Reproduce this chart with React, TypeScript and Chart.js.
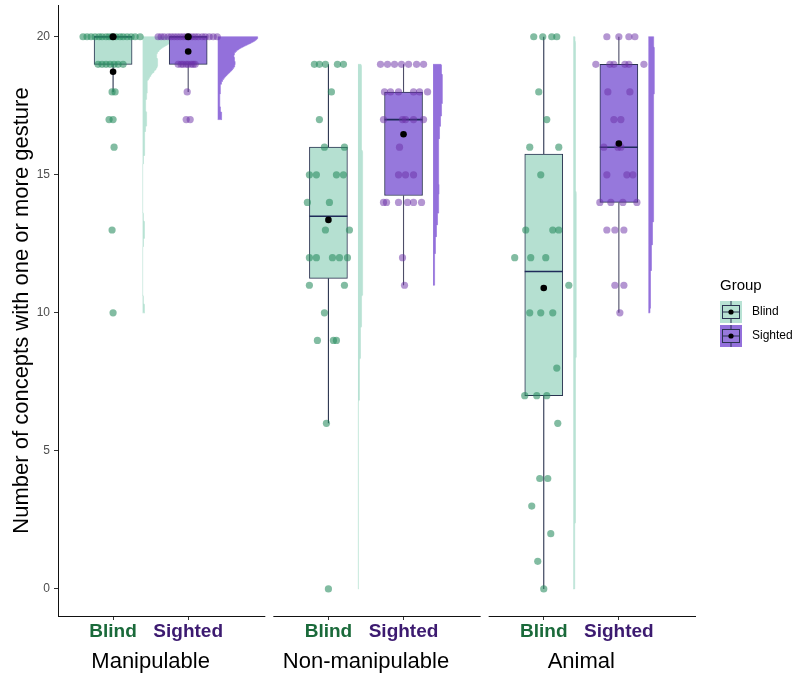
import React, { useEffect, useRef } from 'react';
import { Chart, registerables } from 'chart.js';

Chart.register(...registerables);

// ---------------- data ----------------
const categories = ['Manipulable', 'Non-manipulable', 'Animal'];
const groups = ['Blind', 'Sighted'];
const yTickValues = [0, 5, 10, 15, 20];

// values (concept counts) per participant, and horizontal jitter
const manipulableBlind = [20, 20, 20, 20, 20, 20, 20, 20, 20, 20, 20, 20, 20, 20, 20, 20, 19, 19, 19, 19, 19, 19, 19, 18, 18, 17, 17, 16, 13, 10];
const manipulableBlindJitter = [-30, -26, -22, -18, -14, -11, -7, -4, -1, 3, 7, 10, 14, 18, 22, 27, -15, -11, -7, -3, 1, 5, 10, -1, 2, -4, 0, 1, -1, 0];

const manipulableSighted = [20, 20, 20, 20, 20, 20, 20, 20, 20, 20, 20, 20, 20, 20, 20, 20, 20, 20, 20, 19, 19, 19, 19, 19, 19, 19, 19, 18, 17, 17];
const manipulableSightedJitter = [-30, -27, -24, -20, -17, -14, -11, -8, -5, -2, 1, 4, 7, 10, 14, 17, 21, 25, 29, -10, -7, -5, -2, 0, 3, 5, 7, -1, -2, 2];

const nonManipulableBlind = [19, 19, 19, 19, 19, 18, 17, 16, 16, 15, 15, 15, 15, 14, 14, 13, 13, 12, 12, 12, 12, 12, 11, 11, 10, 9, 9, 9, 6, 0];
const nonManipulableBlindJitter = [-14, -9, -3, 9, 15, 3, -9, -4, 16, -19, -12, 8, 15, -21, 1, -3, 21, -19, -12, 4, 11, 19, -19, 16, -4, -11, 5, 8, -2, 0];

const nonManipulableSighted = [19, 19, 19, 19, 19, 19, 19, 18, 18, 18, 18, 18, 18, 17, 17, 17, 17, 17, 16, 15, 15, 15, 14, 14, 14, 14, 14, 14, 12, 11];
const nonManipulableSightedJitter = [-23, -16, -9, -2, 5, 13, 20, -19, -13, -5, 10, 16, 24, -20, -1, 2, 10, 20, -4, -5, 2, 10, -20, -17, -5, 4, 10, 18, -1, 1];

const animalBlind = [20, 20, 20, 20, 18, 17, 16, 16, 15, 13, 13, 13, 12, 12, 12, 11, 10, 10, 10, 8, 7, 7, 7, 6, 4, 4, 3, 2, 1, 0];
const animalBlindJitter = [-10, -1, 8, 13, -5, 3, -14, 15, -3, -18, 9, 15, -29, -13, 2, 25, -14, -3, 9, 13, -19, -7, 3, 14, -4, 4, -12, 7, -6, 0];

const animalSighted = [20, 20, 20, 20, 19, 19, 19, 19, 19, 19, 18, 18, 17, 17, 16, 16, 16, 15, 15, 15, 14, 14, 14, 14, 13, 13, 13, 11, 11, 10];
const animalSightedJitter = [-12, 0, 10, 16, -23, -9, -5, 6, 10, 25, -11, 11, -5, 2, -15, -1, 2, -12, 8, 14, -19, -8, 4, 18, -12, -4, 5, -4, 5, 1];

// dark marks at the top of the manipulable boxes
const manipulableTopMarks = [20, 20];

// ---------------- layout constants ----------------
const FONT = '"Liberation Sans", Arial, Helvetica, sans-serif';
const X_MIN = 0.5698;
const X_MAX = 3.5326;
const DODGE = 0.1744;
const BOX_HALF = 0.0884;
const JITTER_UNIT = 1 / 215;
const VIOLIN_NUDGE = 0.1372;
const VIOLIN_MAX = 0.186;
const PANEL_LEFT = 0.4302;
const PANEL_RIGHT = 0.5326;

const boxFill = ['#b5e0d1', '#9678dc'];
const violinFill = ['#b8e2d4', '#9370db'];
const pointFill = ['rgba(40,140,95,0.58)', 'rgba(105,45,165,0.5)'];
const whiskerColor = ['#2c3550', '#4d4d68'];
const boxBorder = '#2a3350';
const medianColor = '#1f2b5a';
const tickLabelColor = ['#1a6a3a', '#3c1a70'];

const series = [
  { cat: 0, grp: 0, values: manipulableBlind, jitter: manipulableBlindJitter },
  { cat: 0, grp: 1, values: manipulableSighted, jitter: manipulableSightedJitter },
  { cat: 1, grp: 0, values: nonManipulableBlind, jitter: nonManipulableBlindJitter },
  { cat: 1, grp: 1, values: nonManipulableSighted, jitter: nonManipulableSightedJitter },
  { cat: 2, grp: 0, values: animalBlind, jitter: animalBlindJitter },
  { cat: 2, grp: 1, values: animalSighted, jitter: animalSightedJitter },
];

function sortedCopy(a: number[]) {
  return [...a].sort((p, q) => p - q);
}
function quantile7(s: number[], p: number) {
  const h = (s.length - 1) * p;
  const lo = Math.floor(h);
  const hi = Math.min(lo + 1, s.length - 1);
  return s[lo] + (h - lo) * (s[hi] - s[lo]);
}
function boxStats(values: number[]) {
  const s = sortedCopy(values);
  const q1 = quantile7(s, 0.25);
  const med = quantile7(s, 0.5);
  const q3 = quantile7(s, 0.75);
  const iqr = q3 - q1;
  const lower = Math.min(...s.filter((v) => v >= q1 - 1.5 * iqr));
  const upper = Math.max(...s.filter((v) => v <= q3 + 1.5 * iqr));
  const mean = s.reduce((a, b) => a + b, 0) / s.length;
  return { q1, med, q3, lower, upper, mean };
}
function density(values: number[], steps: number) {
  const s = sortedCopy(values);
  const n = s.length;
  const mean = s.reduce((a, b) => a + b, 0) / n;
  const sd = Math.sqrt(s.reduce((a, v) => a + (v - mean) * (v - mean), 0) / (n - 1));
  const iqr = quantile7(s, 0.75) - quantile7(s, 0.25);
  let lo = Math.min(sd, iqr / 1.34);
  if (!(lo > 0)) lo = sd || Math.abs(s[0]) || 1;
  const bw = 0.9 * lo * Math.pow(n, -0.2);
  const out: { y: number; d: number }[] = [];
  for (let i = 0; i <= steps; i++) {
    const y = s[0] + ((s[n - 1] - s[0]) * i) / steps;
    let d = 0;
    for (const v of s) d += Math.exp(-0.5 * ((y - v) / bw) ** 2);
    out.push({ y, d: d / (n * bw * Math.sqrt(2 * Math.PI)) });
  }
  return out;
}

function buildDatasets() {
  const sub = series.map((s) => {
    const center = s.cat + 1 + (s.grp === 0 ? -DODGE : DODGE);
    return { ...s, center, stats: boxStats(s.values), dens: density(s.values, 300) };
  });
  const globalMax = Math.max(...sub.flatMap((g) => g.dens.map((p) => p.d)));
  const ds: any[] = [];

  // half violins
  sub.forEach((g) => {
    const base = g.center + VIOLIN_NUDGE;
    const pts = [
      { x: base, y: g.dens[0].y },
      ...g.dens.map((p) => ({ x: base + (p.d / globalMax) * VIOLIN_MAX, y: p.y })),
      { x: base, y: g.dens[g.dens.length - 1].y },
    ];
    ds.push({
      type: 'scatter',
      data: pts,
      showLine: true,
      fill: 'shape',
      backgroundColor: violinFill[g.grp],
      borderColor: violinFill[g.grp],
      borderWidth: 0.6,
      pointRadius: 0,
      tension: 0,
      order: 10,
    });
  });

  // whiskers
  [0, 1].forEach((grp) => {
    const data: any[] = [];
    sub.filter((g) => g.grp === grp).forEach((g) => {
      data.push({ x: g.center, y: g.stats.q3 }, { x: g.center, y: g.stats.upper }, { x: g.center, y: null });
      data.push({ x: g.center, y: g.stats.q1 }, { x: g.center, y: g.stats.lower }, { x: g.center, y: null });
    });
    ds.push({
      type: 'scatter',
      data,
      showLine: true,
      spanGaps: false,
      borderColor: whiskerColor[grp],
      borderWidth: 1.1,
      pointRadius: 0,
      order: 9,
    });
  });

  // boxes (floating bars from Q1 to Q3)
  ds.push({
    type: 'bar',
    data: sub.map((g) => ({ x: g.center, y: [g.stats.q1, g.stats.q3] })),
    backgroundColor: sub.map((g) => boxFill[g.grp]),
    borderColor: boxBorder,
    borderWidth: 1,
    borderSkipped: false,
    barThickness: 38,
    grouped: false,
    order: 8,
  });

  // medians
  const med: any[] = [];
  sub.forEach((g) => {
    med.push({ x: g.center - BOX_HALF, y: g.stats.med }, { x: g.center + BOX_HALF, y: g.stats.med }, { x: g.center, y: null });
  });
  ds.push({
    type: 'scatter',
    data: med,
    showLine: true,
    spanGaps: false,
    borderColor: medianColor,
    borderWidth: 1.6,
    pointRadius: 0,
    order: 7,
  });

  // jittered points
  [0, 1].forEach((grp) => {
    const data: any[] = [];
    sub.filter((g) => g.grp === grp).forEach((g) => {
      g.values.forEach((v, i) => data.push({ x: g.center + g.jitter[i] * JITTER_UNIT, y: v }));
    });
    ds.push({
      type: 'scatter',
      data,
      backgroundColor: pointFill[grp],
      borderWidth: 0,
      pointRadius: 3.6,
      order: 5,
    });
  });

  // means
  ds.push({
    type: 'scatter',
    data: sub.map((g) => ({ x: g.center, y: g.stats.mean })),
    backgroundColor: '#000',
    borderWidth: 0,
    pointRadius: 3.3,
    order: 2,
  });
  ds.push({
    type: 'scatter',
    data: sub.filter((g) => g.cat === 0).map((g, i) => ({ x: g.center, y: manipulableTopMarks[i] })),
    backgroundColor: '#000',
    borderWidth: 0,
    pointRadius: 3.6,
    order: 2,
  });
  return ds;
}

const decorPlugin = {
  id: 'decor',
  afterDraw(chart: any) {
    const { ctx, chartArea } = chart;
    const xs = chart.scales.x;
    ctx.save();
    // segmented x axis line (one per panel)
    ctx.strokeStyle = '#111';
    ctx.lineWidth = 1;
    const yLine = Math.floor(chartArea.bottom) + 0.5;
    categories.forEach((_, i) => {
      const c = i + 1;
      ctx.beginPath();
      ctx.moveTo(xs.getPixelForValue(c - PANEL_LEFT), yLine);
      ctx.lineTo(xs.getPixelForValue(c + PANEL_RIGHT), yLine);
      ctx.stroke();
    });

    // legend
    ctx.fillStyle = '#000';
    ctx.font = `15px ${FONT}`;
    ctx.textBaseline = 'middle';
    ctx.textAlign = 'left';
    ctx.fillText('Group', 720, 286);
    groups.forEach((label, i) => {
      const top = 301 + i * 24;
      ctx.fillStyle = violinFill[i];
      ctx.fillRect(720, top, 22, 22);
      ctx.fillStyle = boxFill[i];
      ctx.fillRect(722.5, top + 4.5, 17, 13);
      ctx.strokeStyle = boxBorder;
      ctx.lineWidth = 1;
      ctx.strokeRect(722.5, top + 4.5, 17, 13);
      ctx.beginPath();
      ctx.moveTo(731, top);
      ctx.lineTo(731, top + 4.5);
      ctx.moveTo(731, top + 17.5);
      ctx.lineTo(731, top + 22);
      ctx.moveTo(722.5, top + 11);
      ctx.lineTo(739.5, top + 11);
      ctx.stroke();
      ctx.fillStyle = '#000';
      ctx.beginPath();
      ctx.arc(731, top + 11, 2.6, 0, Math.PI * 2);
      ctx.fill();
      ctx.font = `12px ${FONT}`;
      ctx.fillText(label, 752, top + 11);
    });
    ctx.restore();
  },
};

export default function App() {
  const ref = useRef<HTMLCanvasElement | null>(null);
  useEffect(() => {
    if (!ref.current) return;
    Chart.defaults.font.family = FONT;
    const chart = new Chart(ref.current, {
      type: 'scatter',
      data: { datasets: buildDatasets() },
      options: {
        responsive: false,
        animation: false,
        events: [],
        layout: { padding: { top: 5, right: 97, bottom: 0, left: 0 } },
        plugins: { legend: { display: false }, tooltip: { enabled: false } },
        scales: {
          x: {
            type: 'linear',
            position: 'bottom',
            weight: 0,
            offset: false,
            min: X_MIN,
            max: X_MAX,
            afterBuildTicks: (s: any) => {
              s.ticks = series.map((g) => ({ value: g.cat + 1 + (g.grp === 0 ? -DODGE : DODGE) }));
            },
            ticks: {
              autoSkip: false,
              maxRotation: 0,
              minRotation: 0,
              padding: 0,
              callback: (_v: any, i: number) => groups[i % 2],
              color: (c: any) => tickLabelColor[c.index % 2],
              font: { family: FONT, size: 19, weight: 'bold' },
            },
            grid: { offset: false, drawOnChartArea: false, drawTicks: true, tickLength: 4, tickColor: '#333', tickWidth: 1 },
            border: { display: false },
            afterFit: (s: any) => {
              s.height = 32;
              s.paddingLeft = 0;
              s.paddingRight = 0;
            },
          },
          x2: {
            type: 'linear',
            position: 'bottom',
            weight: 1,
            offset: false,
            min: X_MIN,
            max: X_MAX,
            afterBuildTicks: (s: any) => {
              s.ticks = categories.map((_, i) => ({ value: i + 1 }));
            },
            ticks: {
              autoSkip: false,
              maxRotation: 0,
              minRotation: 0,
              padding: 1,
              callback: (_v: any, i: number) => categories[i],
              color: '#000',
              font: { family: FONT, size: 22 },
            },
            grid: { display: false, drawTicks: false, offset: false },
            border: { display: false },
            afterFit: (s: any) => {
              s.height = 27;
              s.paddingLeft = 0;
              s.paddingRight = 0;
            },
          },
          y: {
            type: 'linear',
            min: -0.98,
            max: 21.15,
            afterBuildTicks: (s: any) => {
              s.ticks = yTickValues.map((v) => ({ value: v }));
            },
            ticks: { color: '#4d4d4d', font: { family: FONT, size: 12 }, padding: 4 },
            grid: { drawOnChartArea: false, tickLength: 4, tickColor: '#333', tickWidth: 1 },
            border: { display: true, color: '#111', width: 1 },
            title: {
              display: true,
              text: 'Number of concepts with one or more gesture',
              color: '#000',
              font: { family: FONT, size: 22 },
              padding: { top: 9, bottom: 0 },
            },
            afterFit: (s: any) => {
              s.width = 58;
              s.paddingTop = 0;
              s.paddingBottom = 0;
            },
          },
        },
      } as any,
      plugins: [decorPlugin],
    });
    return () => chart.destroy();
  }, []);
  return (
    <div style={{ position: 'absolute', left: 0, top: 0, width: 793, height: 675, background: '#fff' }}>
      <canvas ref={ref} width={793} height={675} style={{ display: 'block' }} />
    </div>
  );
}
